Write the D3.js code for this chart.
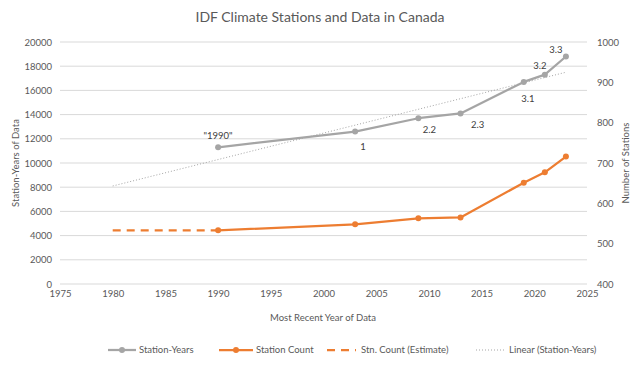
<!DOCTYPE html>
<html><head><meta charset="utf-8">
<script src="https://cdn.jsdelivr.net/npm/d3@7"></script>
<style>
html,body{margin:0;padding:0;background:#fff;}
text{font-family:Lato,"Open Sans",sans-serif;fill:#595959;}
</style></head>
<body>
<svg id="chart" width="640" height="366"></svg>
<script>
const years = [1990, 2003, 2009, 2013, 2019, 2021, 2023];
const stationYears = [11300, 12600, 13700, 14100, 16700, 17300, 18800];
const stationCount = [533, 548, 563, 565, 651, 677, 716];
const estimateYears = [1980, 1990];
const estimateCount = [533, 533];
const trendYears = [1980, 2023];
const trendValues = [8100, 17500];
const pointLabels = ['"1990"', '1', '2.2', '2.3', '3.1', '3.2', '3.3'];
const labelOffsets = [[0,-12],[8,15],[11,11],[17,11],[4,17],[-5,-9],[-10,-7]];
const xTicks = [1975,1980,1985,1990,1995,2000,2005,2010,2015,2020,2025];
const leftTicks = [0,2000,4000,6000,8000,10000,12000,14000,16000,18000,20000];
const rightTicks = [400,500,600,700,800,900,1000];

const svg = d3.select("#chart");
const L = 60, R = 587, T = 42, B = 284;
const x = d3.scaleLinear().domain([1975, 2025]).range([L, R]);
const yL = d3.scaleLinear().domain([0, 20000]).range([B, T]);
const yR = d3.scaleLinear().domain([400, 1000]).range([B, T]);
const gray = "#A5A5A5", orange = "#ED7D31";

svg.append("text").attr("x", 320).attr("y", 22).attr("text-anchor", "middle")
  .style("font-size", "14px").text("IDF Climate Stations and Data in Canada");

// gridlines
svg.append("g").selectAll("line").data(leftTicks).join("line")
  .attr("x1", L).attr("x2", R).attr("y1", d => yL(d)).attr("y2", d => yL(d))
  .attr("stroke", "#d9d9d9").attr("stroke-width", 1);

// axes
const ax = svg.append("g").attr("transform", `translate(0,${B})`)
  .call(d3.axisBottom(x).tickValues(xTicks).tickFormat(d3.format("d")).tickSize(0).tickPadding(6));
ax.select(".domain").remove();
ax.selectAll("text").style("font-size", "9.5px").style("fill", "#595959").style("font-family", "Lato");

const al = svg.append("g").attr("transform", `translate(${L},0)`)
  .call(d3.axisLeft(yL).tickValues(leftTicks).tickFormat(d3.format("d")).tickSize(0).tickPadding(8));
al.select(".domain").remove();
al.selectAll("text").style("font-size", "9.5px").style("fill", "#595959").style("font-family", "Lato");

const ar = svg.append("g").attr("transform", `translate(${R},0)`)
  .call(d3.axisRight(yR).tickValues(rightTicks).tickFormat(d3.format("d")).tickSize(0).tickPadding(10));
ar.select(".domain").remove();
ar.selectAll("text").style("font-size", "9.5px").style("fill", "#595959").style("font-family", "Lato");

// axis titles
svg.append("text").attr("transform", `translate(19,163) rotate(-90)`).attr("text-anchor", "middle")
  .style("font-size", "9.5px").text("Station-Years of Data");
svg.append("text").attr("transform", `translate(629,163) rotate(-90)`).attr("text-anchor", "middle")
  .style("font-size", "9.5px").text("Number of Stations");
svg.append("text").attr("x", 323).attr("y", 321).attr("text-anchor", "middle")
  .style("font-size", "9.5px").text("Most Recent Year of Data");

// trendline
const lineL = d3.line().x(d => x(d[0])).y(d => yL(d[1]));
const lineR = d3.line().x(d => x(d[0])).y(d => yR(d[1]));
svg.append("path").datum(d3.zip(trendYears, trendValues)).attr("d", lineL)
  .attr("fill", "none").attr("stroke", gray).attr("stroke-width", 1).attr("stroke-dasharray", "1,2");

// estimate dashed
svg.append("path").datum(d3.zip(estimateYears, estimateCount)).attr("d", lineR)
  .attr("fill", "none").attr("stroke", orange).attr("stroke-width", 2.25).attr("stroke-dasharray", "8,6");

// station years
const sy = d3.zip(years, stationYears);
svg.append("path").datum(sy).attr("d", lineL).attr("fill", "none")
  .attr("stroke", gray).attr("stroke-width", 2.25).attr("stroke-linejoin", "round");
svg.append("g").selectAll("circle").data(sy).join("circle")
  .attr("cx", d => x(d[0])).attr("cy", d => yL(d[1])).attr("r", 3).attr("fill", gray);

// station count
const sc = d3.zip(years, stationCount);
svg.append("path").datum(sc).attr("d", lineR).attr("fill", "none")
  .attr("stroke", orange).attr("stroke-width", 2.25).attr("stroke-linejoin", "round");
svg.append("g").selectAll("circle").data(sc).join("circle")
  .attr("cx", d => x(d[0])).attr("cy", d => yR(d[1])).attr("r", 3).attr("fill", orange);

// labels
svg.append("g").selectAll("text").data(sy).join("text")
  .attr("x", (d, i) => x(d[0]) + labelOffsets[i][0])
  .attr("y", (d, i) => yL(d[1]) + labelOffsets[i][1])
  .attr("text-anchor", "middle").attr("dy", "0.35em")
  .style("font-size", "9.5px").style("fill", "#404040").text((d, i) => pointLabels[i]);

// legend
const ly = 350;
const leg = svg.append("g");
function legText(xp, t) { leg.append("text").attr("x", xp).attr("y", ly).attr("dy", "0.35em").style("font-size", "9.5px").text(t); }
leg.append("line").attr("x1", 108).attr("x2", 136).attr("y1", ly).attr("y2", ly).attr("stroke", gray).attr("stroke-width", 2.25);
leg.append("circle").attr("cx", 122).attr("cy", ly).attr("r", 3).attr("fill", gray);
legText(139, "Station-Years");
leg.append("line").attr("x1", 219).attr("x2", 253).attr("y1", ly).attr("y2", ly).attr("stroke", orange).attr("stroke-width", 2.25);
leg.append("circle").attr("cx", 236).attr("cy", ly).attr("r", 3).attr("fill", orange);
legText(256, "Station Count");
leg.append("line").attr("x1", 327).attr("x2", 356).attr("y1", ly).attr("y2", ly).attr("stroke", orange).attr("stroke-width", 2.25).attr("stroke-dasharray", "8,6");
legText(361, "Stn. Count (Estimate)");
leg.append("line").attr("x1", 476).attr("x2", 505).attr("y1", ly).attr("y2", ly).attr("stroke", gray).attr("stroke-width", 1).attr("stroke-dasharray", "1,2");
legText(509, "Linear (Station-Years)");
</script>
</body></html>
